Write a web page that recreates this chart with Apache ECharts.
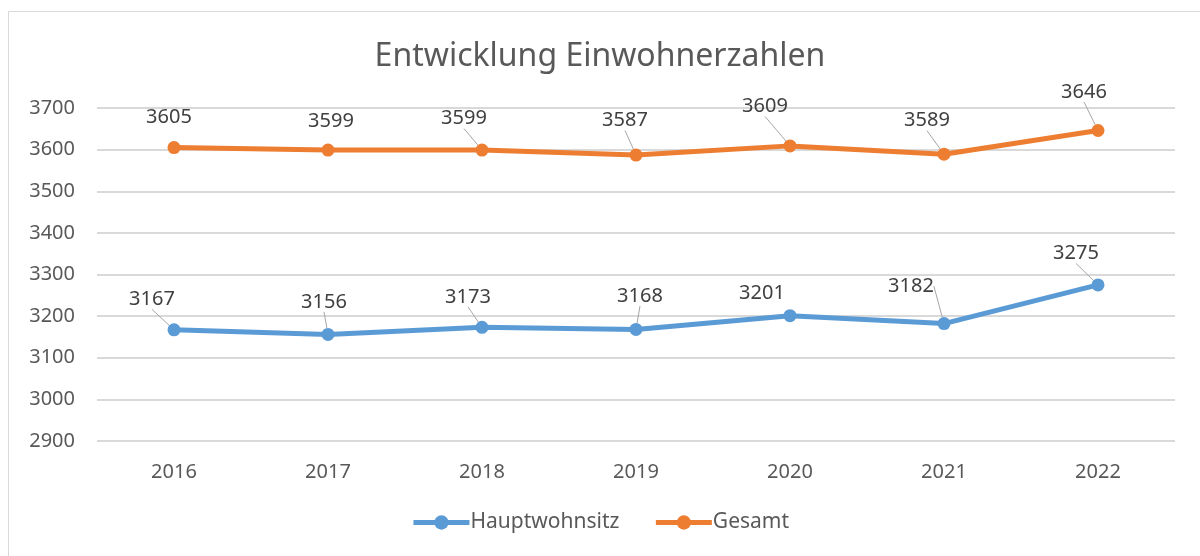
<!DOCTYPE html>
<html>
<head>
<meta charset="utf-8">
<script src="https://cdn.jsdelivr.net/npm/echarts@6/dist/echarts.min.js"></script>
<style>
  html, body { margin: 0; padding: 0; background: #fff; }
  #chart { width: 1200px; height: 556px; }
</style>
</head>
<body>
<div id="chart"></div>
<script>
// Daten
const years = ['2016', '2017', '2018', '2019', '2020', '2021', '2022']
const hauptwohnsitz = [3167, 3156, 3173, 3168, 3201, 3182, 3275]
const gesamt = [3605, 3599, 3599, 3587, 3609, 3589, 3646]

// Verschiebung der Datenbeschriftungen (wie im Excel-Original)
const shiftHaupt = [[-22, -9], [-4, -11], [-14, -9], [4, -12], [-28, -1], [-33, -16], [-22, -10]]
const shiftGesamt = [[-5, -9], [3, -7], [-18, -10], [-11, -13], [-25, -18], [-17, -12], [-14, -17]]
// Fuehrungslinie ja/nein
const lineHaupt = [true, true, true, true, false, true, true]
const lineGesamt = [false, false, true, true, true, true, true]

const fontFamily = '"Noto Sans", sans-serif'
const textColor = '#595959'

let myChart = echarts.init(document.getElementById('chart'))

function makeSeries(name, values, color, shifts, lines) {
  const data = values.map((v, i) => ({ value: v, labelLine: { show: lines[i] } }))
  return {
    name: name,
    type: 'line',
    data: data,
    symbol: 'circle',
    symbolSize: 13,
    lineStyle: { color: color, width: 5 },
    itemStyle: { color: color },
    label: {
      show: true,
      position: 'top',
      color: '#404040',
      fontSize: 20,
      fontFamily: fontFamily
    },
    labelLine: {
      show: true,
      lineStyle: { color: '#a6a6a6', width: 1 }
    },
    labelLayout: function (params) {
      const s = shifts[params.dataIndex]
      return { dx: s[0], dy: s[1] }
    },
    emphasis: { disabled: true },
    animation: false
  }
}

let option = {
  backgroundColor: '#fff',
  animation: false,
  title: {
    text: 'Entwicklung Einwohnerzahlen',
    left: 'center',
    top: 36,
    textStyle: {
      fontFamily: fontFamily,
      fontSize: 32,
      fontWeight: 'normal',
      color: textColor
    }
  },
  graphic: [{
    type: 'rect',
    shape: { x: 8.5, y: 11.5, width: 1200, height: 560 },
    style: { fill: 'none', stroke: '#d9d9d9', lineWidth: 1 },
    silent: true
  }],
  legend: {
    bottom: 18,
    left: 'center',
    itemWidth: 56,
    itemHeight: 18,
    itemGap: 34,
    lineStyle: { width: 5 },
    textStyle: { fontFamily: fontFamily, fontSize: 21, color: textColor, padding: [0, 0, 0, -4] },
    data: ['Hauptwohnsitz', 'Gesamt']
  },
  grid: {
    left: 97,
    right: 25,
    top: 108,
    bottom: 115
  },
  xAxis: {
    type: 'category',
    data: years,
    boundaryGap: true,
    axisLine: { show: false },
    axisTick: { show: false },
    axisLabel: {
      margin: 21,
      fontFamily: fontFamily,
      fontSize: 20,
      color: textColor
    }
  },
  yAxis: {
    type: 'value',
    min: 2900,
    max: 3700,
    interval: 100,
    axisLine: { show: false },
    axisTick: { show: false },
    axisLabel: {
      margin: 22,
      fontFamily: fontFamily,
      fontSize: 20,
      color: textColor,
      formatter: v => String(v)
    },
    splitLine: { lineStyle: { color: '#d9d9d9', width: 2 } }
  },
  series: [
    makeSeries('Hauptwohnsitz', hauptwohnsitz, '#5b9bd5', shiftHaupt, lineHaupt),
    makeSeries('Gesamt', gesamt, '#ed7d31', shiftGesamt, lineGesamt)
  ]
}
myChart.setOption(option)
</script>
</body>
</html>
